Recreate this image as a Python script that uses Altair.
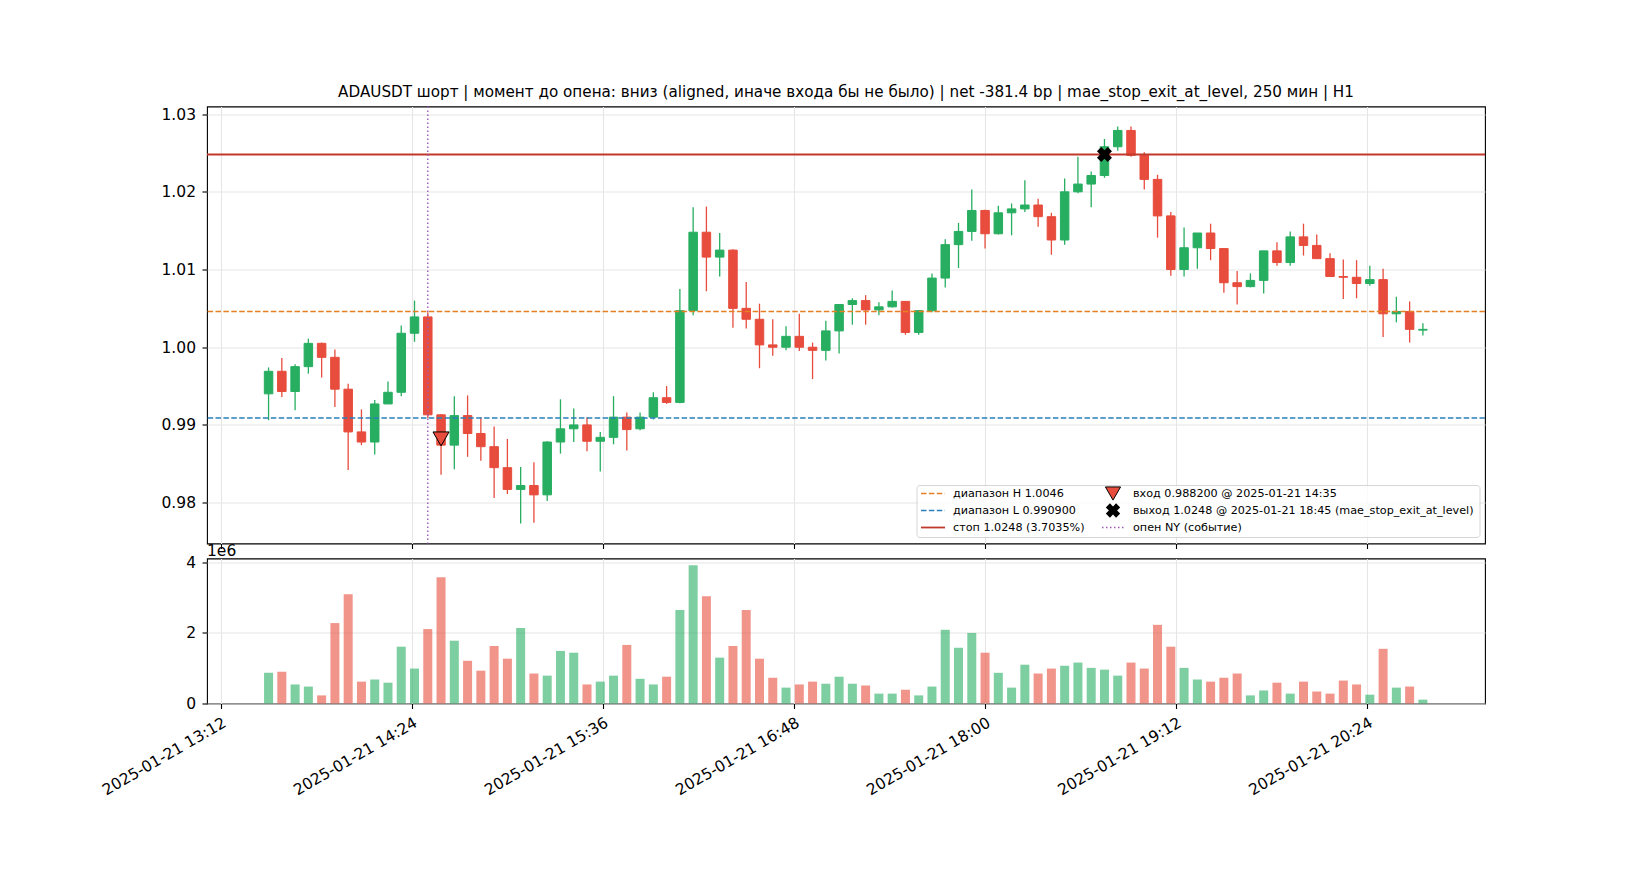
import altair as alt
import numpy as np
import pandas as pd

# 5-minute candles, 2025-01-21 13:30 .. 20:45
times = pd.date_range("2025-01-21 13:30", periods=88, freq="5min")

opens = [0.9940, 0.9969, 0.9943, 0.9975, 1.0005, 0.9987, 0.9946, 0.9891, 0.9878, 0.9927,
         0.9942, 1.0018, 1.0039, 0.9913, 0.9874, 0.9912, 0.9889, 0.9872, 0.9845, 0.9817,
         0.9822, 0.9810, 0.9878, 0.9895, 0.9900, 0.9879, 0.9884, 0.9910, 0.9895, 0.9910,
         0.9935, 0.9929, 1.0047, 1.0148, 1.0116, 1.0125, 1.0050, 1.0036, 1.0003, 1.0000,
         1.0014, 1.0000, 0.9996, 1.0021, 1.0055, 1.0060, 1.0048, 1.0052, 1.0059, 1.0019,
         1.0047, 1.0089, 1.0132, 1.0149, 1.0176, 1.0146, 1.0173, 1.0178, 1.0183, 1.0168,
         1.0138, 1.0200, 1.0210, 1.0221, 1.0258, 1.0279, 1.0247, 1.0216, 1.0169, 1.0100,
         1.0128, 1.0147, 1.0127, 1.0083, 1.0078, 1.0086, 1.0124, 1.0109, 1.0142, 1.0131,
         1.0114, 1.0091, 1.0090, 1.0082, 1.0087, 1.0043, 1.0046, 1.0022]
highs = [0.9974, 0.9986, 0.9978, 1.0011, 1.0006, 0.9997, 0.9953, 0.9920, 0.9932, 0.9956,
         1.0028, 1.0060, 1.0045, 0.9914, 0.9937, 0.9938, 0.9910, 0.9898, 0.9882, 0.9846,
         0.9852, 0.9879, 0.9933, 0.9921, 0.9910, 0.9891, 0.9937, 0.9916, 0.9916, 0.9942,
         0.9950, 1.0075, 1.0180, 1.0181, 1.0147, 1.0126, 1.0084, 1.0056, 1.0036, 1.0027,
         1.0043, 1.0006, 1.0034, 1.0055, 1.0063, 1.0067, 1.0058, 1.0073, 1.0059, 1.0048,
         1.0095, 1.0139, 1.0160, 1.0203, 1.0177, 1.0182, 1.0185, 1.0215, 1.0191, 1.0173,
         1.0217, 1.0245, 1.0226, 1.0268, 1.0284, 1.0284, 1.0251, 1.0222, 1.0174, 1.0154,
         1.0147, 1.0159, 1.0127, 1.0098, 1.0095, 1.0124, 1.0135, 1.0149, 1.0159, 1.0145,
         1.0121, 1.0113, 1.0112, 1.0105, 1.0101, 1.0065, 1.0059, 1.0031]
lows = [0.9906, 0.9936, 0.9919, 0.9966, 0.9961, 0.9923, 0.9842, 0.9874, 0.9862, 0.9927,
        0.9937, 1.0007, 0.9909, 0.9836, 0.9843, 0.9859, 0.9854, 0.9806, 0.9811, 0.9773,
        0.9774, 0.9802, 0.9863, 0.9878, 0.9866, 0.9840, 0.9875, 0.9867, 0.9893, 0.9907,
        0.9927, 0.9928, 1.0041, 1.0072, 1.0091, 1.0025, 1.0024, 0.9973, 0.9989, 0.9996,
        0.9995, 0.9959, 0.9983, 0.9992, 1.0029, 1.0029, 1.0041, 1.0051, 1.0016, 1.0016,
        1.0045, 1.0077, 1.0102, 1.0137, 1.0127, 1.0145, 1.0144, 1.0174, 1.0155, 1.0119,
        1.0132, 1.0198, 1.0180, 1.0218, 1.0253, 1.0245, 1.0203, 1.0141, 1.0092, 1.0091,
        1.0101, 1.0112, 1.0070, 1.0055, 1.0077, 1.0069, 1.0105, 1.0105, 1.0118, 1.0114,
        1.0091, 1.0062, 1.0063, 1.0079, 1.0013, 1.0032, 1.0006, 1.0015]
closes = [0.9969, 0.9943, 0.9975, 1.0005, 0.9987, 0.9946, 0.9891, 0.9878, 0.9927, 0.9942,
          1.0018, 1.0039, 0.9913, 0.9874, 0.9912, 0.9889, 0.9872, 0.9845, 0.9817, 0.9822,
          0.9810, 0.9878, 0.9895, 0.9900, 0.9879, 0.9884, 0.9910, 0.9894, 0.9910, 0.9935,
          0.9929, 1.0047, 1.0148, 1.0116, 1.0125, 1.0050, 1.0036, 1.0003, 1.0000, 1.0014,
          1.0000, 0.9996, 1.0021, 1.0055, 1.0060, 1.0048, 1.0052, 1.0059, 1.0019, 1.0047,
          1.0089, 1.0132, 1.0149, 1.0176, 1.0146, 1.0173, 1.0178, 1.0183, 1.0168, 1.0138,
          1.0200, 1.0210, 1.0221, 1.0258, 1.0279, 1.0247, 1.0216, 1.0169, 1.0100, 1.0128,
          1.0147, 1.0127, 1.0083, 1.0078, 1.0086, 1.0124, 1.0109, 1.0142, 1.0131, 1.0114,
          1.0091, 1.0090, 1.0082, 1.0087, 1.0043, 1.0046, 1.0023, 1.0023]
# volume, millions
volumes = [0.87, 0.90, 0.54, 0.48, 0.23, 2.28, 3.10, 0.62, 0.68, 0.59,
           1.61, 0.99, 2.11, 3.58, 1.78, 1.21, 0.93, 1.63, 1.27, 2.14,
           0.85, 0.79, 1.49, 1.44, 0.54, 0.62, 0.79, 1.66, 0.70, 0.54,
           0.76, 2.65, 3.92, 3.04, 1.30, 1.63, 2.65, 1.27, 0.73, 0.45,
           0.54, 0.62, 0.56, 0.76, 0.56, 0.51, 0.28, 0.28, 0.39, 0.23,
           0.48, 2.09, 1.58, 2.00, 1.44, 0.87, 0.45, 1.10, 0.85, 0.99,
           1.07, 1.16, 1.01, 0.96, 0.79, 1.16, 0.99, 2.23, 1.61, 1.01,
           0.68, 0.62, 0.73, 0.85, 0.23, 0.37, 0.59, 0.28, 0.62, 0.34,
           0.28, 0.65, 0.54, 0.25, 1.55, 0.45, 0.48, 0.11]

range_h = 1.0046
range_l = 0.990900
stop = 1.0248
entry_price = 0.988200
entry_time = "14:35"
exit_price = 1.0248
exit_time = "18:45"
ny_open_time = "14:30"
x_tick_times = ["13:12", "14:24", "15:36", "16:48", "18:00", "19:12", "20:24"]

title = ("ADAUSDT шорт | момент до опена: вниз (aligned, иначе входа бы не было) | "
         "net -381.4 bp | mae_stop_exit_at_level, 250 мин | H1")

GREEN, RED = "#27ae60", "#e74c3c"
ORANGE, BLUE, STOP_RED, PURPLE = "#e67e22", "#2980b9", "#c0392b", "#9b59b6"
FONT = "DejaVu Sans"


def to_min(hhmm):
    h, m = hhmm.split(":")
    return int(h) * 60 + int(m)


df = pd.DataFrame({"open": opens, "high": highs, "low": lows, "close": closes, "vol": volumes})
df["m"] = times.hour * 60 + times.minute
df["dir"] = np.where(df["close"] >= df["open"], "up", "down")

W, H_PRICE, H_VOL = 1278, 437, 145
# padding=0: no extra band padding that Vega-Lite adds for bars on a continuous x
x_scale = alt.Scale(domain=[786.8, 1268.4], nice=False, zero=False, padding=0)
x_vals = [to_min(t) for t in x_tick_times]
label_expr = ("'2025-01-21 ' + pad(toString(floor(datum.value / 60)), 2, '0', 'left') + ':' + "
              "pad(toString(datum.value % 60), 2, '0', 'left')")
dir_scale = alt.Scale(domain=["up", "down"], range=[GREEN, RED])
price_scale = alt.Scale(domain=[0.97474, 1.03098], nice=False, zero=False)

x_price = alt.X("m:Q", scale=x_scale, title=None,
                axis=alt.Axis(values=x_vals, labels=False, grid=True))
y_price = alt.Y("low:Q", scale=price_scale, title=None,
                axis=alt.Axis(values=[0.98, 0.99, 1.00, 1.01, 1.02, 1.03], format=".2f"))

base = alt.Chart(df).encode(x=x_price)
wicks = base.mark_rule(strokeWidth=1.3).encode(
    y=y_price, y2="high:Q",
    color=alt.Color("dir:N", scale=dir_scale, legend=None))
bodies = base.mark_bar(size=8.5, strokeWidth=1).encode(
    y=alt.Y("open:Q", title=None), y2="close:Q",
    color=alt.Color("dir:N", scale=dir_scale, legend=None),
    stroke=alt.Stroke("dir:N", scale=dir_scale, legend=None))


def hline(val, color, dash=None, width=1.5):
    kw = {"strokeDash": dash} if dash else {}
    return alt.Chart(pd.DataFrame({"y": [val]})).mark_rule(
        color=color, strokeWidth=width, **kw).encode(y=alt.Y("y:Q", title=None))


lines = [hline(range_h, ORANGE, [5.5, 2.4]), hline(range_l, BLUE, [5.5, 2.4]),
         hline(stop, STOP_RED, None, 1.8)]
ny_line = alt.Chart(pd.DataFrame({"m": [to_min(ny_open_time)]})).mark_rule(
    color=PURPLE, strokeWidth=1.4, strokeDash=[1.5, 2.5]).encode(x=alt.X("m:Q", title=None))

entry = alt.Chart(pd.DataFrame({"m": [to_min(entry_time)], "p": [entry_price]})).mark_point(
    shape="triangle-down", filled=True, fill=RED, stroke="black", strokeWidth=1,
    size=260, opacity=1).encode(x=alt.X("m:Q", title=None), y=alt.Y("p:Q", title=None))
exit_mark = alt.Chart(pd.DataFrame({"m": [to_min(exit_time)], "p": [exit_price]})).mark_point(
    shape="cross", angle=45, filled=True, color="black", size=230,
    opacity=1).encode(x=alt.X("m:Q", title=None), y=alt.Y("p:Q", title=None))

# hand-built legend box, lower right of the price panel
one = pd.DataFrame({"a": [0]})
LX0, LX1, LY0, LY1 = 710, 1273, 379, 431
rows = [387, 404, 421]
C1_SYM, C1_TXT, C2_SYM, C2_TXT = (714, 738), 746, 906, 926
legend = [alt.Chart(one).mark_rect(fill="white", opacity=0.8, stroke="#cccccc",
                                   strokeWidth=1, cornerRadius=3).encode(
    x=alt.value(LX0), x2=alt.value(LX1), y=alt.value(LY0), y2=alt.value(LY1))]


def leg_line(x0, x1, y, color, dash=None, width=1.5):
    kw = {"strokeDash": dash} if dash else {}
    return alt.Chart(one).mark_rule(color=color, strokeWidth=width, **kw).encode(
        x=alt.value(x0), x2=alt.value(x1), y=alt.value(y), y2=alt.value(y))


def leg_text(x, y, txt):
    return alt.Chart(one).mark_text(align="left", baseline="middle", fontSize=11.2,
                                    font=FONT, color="black").encode(
        x=alt.value(x), y=alt.value(y), text=alt.value(txt))


legend += [
    leg_line(*C1_SYM, rows[0], ORANGE, [5.5, 2.4]),
    leg_text(C1_TXT, rows[0], f"диапазон H {range_h}"),
    leg_line(*C1_SYM, rows[1], BLUE, [5.5, 2.4]),
    leg_text(C1_TXT, rows[1], f"диапазон L {range_l:.6f}"),
    leg_line(*C1_SYM, rows[2], STOP_RED, None, 1.8),
    leg_text(C1_TXT, rows[2], f"стоп {stop} (3.7035%)"),
    alt.Chart(one).mark_point(shape="triangle-down", filled=True, fill=RED, stroke="black",
                              strokeWidth=1, size=230, opacity=1).encode(
        x=alt.value(C2_SYM), y=alt.value(rows[0])),
    leg_text(C2_TXT, rows[0], f"вход {entry_price:.6f} @ 2025-01-21 {entry_time}"),
    alt.Chart(one).mark_point(shape="cross", angle=45, filled=True, color="black",
                              size=210, opacity=1).encode(
        x=alt.value(C2_SYM), y=alt.value(rows[1])),
    leg_text(C2_TXT, rows[1], f"выход {exit_price} @ 2025-01-21 {exit_time} (mae_stop_exit_at_level)"),
    leg_line(C2_SYM - 11, C2_SYM + 11, rows[2], PURPLE, [1.5, 2.5], 1.4),
    leg_text(C2_TXT, rows[2], "опен NY (событие)"),
]

price = alt.layer(wicks, bodies, *lines, ny_line, entry, exit_mark, *legend).properties(
    width=W, height=H_PRICE,
    title=alt.TitleParams(title, fontSize=15.2, fontWeight="normal", font=FONT,
                          color="black", offset=5.5, anchor="middle", frame="group"))

vol_bars = alt.Chart(df).mark_bar(size=9, opacity=0.6).encode(
    x=alt.X("m:Q", scale=x_scale, title=None,
            axis=alt.Axis(values=x_vals, labelExpr=label_expr, labelAngle=-30,
                          labelAlign="right", labelBaseline="top", grid=True)),
    y=alt.Y("vol:Q", scale=alt.Scale(domain=[0, 4.11], nice=False), title=None,
            axis=alt.Axis(values=[0, 2, 4], format="d")),
    color=alt.Color("dir:N", scale=dir_scale, legend=None))
exp_text = alt.Chart(one).mark_text(align="left", baseline="middle", fontSize=15.5,
                                    font=FONT, color="black").encode(
    x=alt.value(0), y=alt.value(-8), text=alt.value("1e6"))
volume = alt.layer(vol_bars, exp_text).properties(width=W, height=H_VOL)

chart = alt.vconcat(price, volume, spacing=15, bounds="flush").properties(
    padding={"left": 91, "top": 76.5, "right": 5, "bottom": 5}
).configure_view(stroke="black", strokeWidth=1.1).configure_axis(
    domain=False, tickColor="black", tickSize=5, tickWidth=1.1, labelFont=FONT,
    labelFontSize=15.5, labelColor="black", labelPadding=6.5,
    gridColor="#e6e6e6", gridWidth=1.1)

chart.save("out.html", embed_options={"renderer": "svg", "actions": False})
